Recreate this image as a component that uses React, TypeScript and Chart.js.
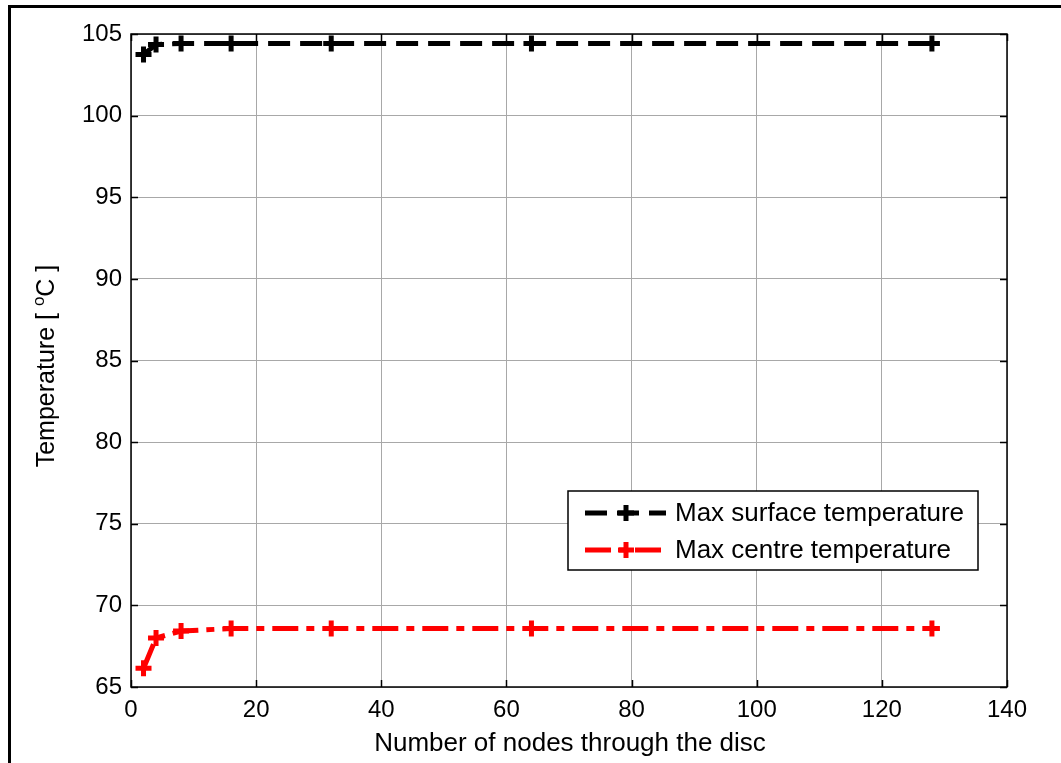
import React, { useEffect, useRef } from "react";
import { Chart, registerables } from "chart.js";

Chart.register(...registerables);

const nodes = [2, 4, 8, 16, 32, 64, 128];
const surfaceTemp = [103.75, 104.35, 104.42, 104.42, 104.42, 104.42, 104.42];
const centreTemp = [66.15, 68.0, 68.43, 68.58, 68.58, 68.58, 68.58];
const seriesLabels = ["Max surface temperature", "Max centre temperature"];
const xTitle = "Number of nodes through the disc";
const yTitleMain = "Temperature [ ";
const yTitleSup = "o";
const yTitleEnd = "C ]";

const FONT = "'Liberation Sans', Arial, sans-serif";

const decorPlugin = {
  id: "decor",
  beforeDraw(chart: any) {
    const ctx = chart.ctx;
    ctx.save();
    ctx.fillStyle = "#ffffff";
    ctx.fillRect(0, 0, chart.width, chart.height);
    ctx.restore();
  },
  afterDraw(chart: any) {
    const ctx = chart.ctx;
    const { left, right, top, bottom } = chart.chartArea;
    const xs = chart.scales.x;
    const ys = chart.scales.y;
    ctx.save();
    // figure frame
    ctx.fillStyle = "#000";
    ctx.fillRect(8, 5, 3, chart.height - 5);
    ctx.fillRect(8, 5, chart.width - 8, 3);
    // axes box
    ctx.strokeStyle = "#000";
    ctx.lineWidth = 1.5;
    ctx.strokeRect(left, top, right - left, bottom - top);
    // inward ticks
    const tl = 7;
    for (let v = 0; v <= 140; v += 20) {
      const px = Math.round(xs.getPixelForValue(v)) + 0.5;
      ctx.beginPath();
      ctx.moveTo(px, bottom);
      ctx.lineTo(px, bottom - tl);
      ctx.moveTo(px, top);
      ctx.lineTo(px, top + tl);
      ctx.stroke();
    }
    for (let v = 65; v <= 105; v += 5) {
      const py = Math.round(ys.getPixelForValue(v)) + 0.5;
      ctx.beginPath();
      ctx.moveTo(left, py);
      ctx.lineTo(left + tl, py);
      ctx.moveTo(right, py);
      ctx.lineTo(right - tl, py);
      ctx.stroke();
    }
    // axis titles
    ctx.fillStyle = "#000";
    ctx.font = `26px ${FONT}`;
    ctx.textAlign = "center";
    ctx.textBaseline = "middle";
    ctx.fillText(xTitle, 570, 744);
    // y title with superscript
    ctx.save();
    ctx.translate(47, 366);
    ctx.rotate(-Math.PI / 2);
    ctx.textAlign = "left";
    ctx.textBaseline = "middle";
    ctx.font = `25px ${FONT}`;
    const w1 = ctx.measureText(yTitleMain).width;
    const w3 = ctx.measureText(yTitleEnd).width;
    ctx.font = `17px ${FONT}`;
    const w2 = ctx.measureText(yTitleSup).width;
    const total = w1 + w2 + w3;
    const x0 = -total / 2;
    ctx.font = `25px ${FONT}`;
    ctx.fillText(yTitleMain, x0, 0);
    ctx.font = `17px ${FONT}`;
    ctx.fillText(yTitleSup, x0 + w1, -8);
    ctx.font = `25px ${FONT}`;
    ctx.fillText(yTitleEnd, x0 + w1 + w2, 0);
    ctx.restore();

    // legend
    const lx = 568, ly = 491, lw = 410, lh = 79;
    ctx.fillStyle = "#fff";
    ctx.fillRect(lx, ly, lw, lh);
    ctx.strokeStyle = "#000";
    ctx.lineWidth = 1.5;
    ctx.strokeRect(lx, ly, lw, lh);
    const ds = chart.data.datasets;
    const rows = [ly + 22, ly + 59];
    ds.forEach((d: any, i: number) => {
      const y = rows[i];
      ctx.save();
      ctx.strokeStyle = d.borderColor;
      ctx.lineWidth = 5;
      ctx.setLineDash(d.borderDash);
      ctx.beginPath();
      ctx.moveTo(585, y);
      ctx.lineTo(666, y);
      ctx.stroke();
      ctx.setLineDash([]);
      ctx.lineWidth = 5;
      ctx.beginPath();
      ctx.moveTo(626, y - 8);
      ctx.lineTo(626, y + 8);
      ctx.moveTo(618, y);
      ctx.lineTo(634, y);
      ctx.stroke();
      ctx.restore();
      ctx.fillStyle = "#000";
      ctx.font = `26px ${FONT}`;
      ctx.textAlign = "left";
      ctx.textBaseline = "middle";
      ctx.fillText(d.label, 675, y + 1);
    });
    ctx.restore();
  },
};

export default function App() {
  const ref = useRef<HTMLCanvasElement>(null);
  useEffect(() => {
    document.body.style.margin = "0";
    const chart = new Chart(ref.current!, {
      type: "line",
      data: {
        datasets: [
          {
            label: seriesLabels[0],
            data: nodes.map((x, i) => ({ x, y: surfaceTemp[i] })),
            borderColor: "#000000",
            backgroundColor: "#000000",
            borderWidth: 5,
            borderDash: [22, 10],
            pointStyle: "cross",
            pointRadius: 8,
            pointBorderWidth: 5,
            pointBorderColor: "#000000",
            tension: 0,
          },
          {
            label: seriesLabels[1],
            data: nodes.map((x, i) => ({ x, y: centreTemp[i] })),
            borderColor: "#ff0000",
            backgroundColor: "#ff0000",
            borderWidth: 5,
            borderDash: [26, 8, 8, 8],
            pointStyle: "cross",
            pointRadius: 8,
            pointBorderWidth: 5,
            pointBorderColor: "#ff0000",
            tension: 0,
          },
        ],
      },
      options: {
        animation: false,
        responsive: false,
        layout: { padding: { left: 0, top: 34, right: 54, bottom: 0 } },
        plugins: { legend: { display: false }, tooltip: { enabled: false } },
        scales: {
          x: {
            type: "linear",
            min: 0,
            max: 140,
            ticks: { stepSize: 20, color: "#000", font: { family: FONT, size: 24 }, padding: 9 },
            grid: { color: "#a8a8a8", lineWidth: 1, drawTicks: false },
            border: { display: false },
            afterFit: (s: any) => { s.height = 76; },
          },
          y: {
            type: "linear",
            min: 65,
            max: 105,
            ticks: { stepSize: 5, color: "#000", font: { family: FONT, size: 24 }, padding: 9 },
            grid: { color: "#a8a8a8", lineWidth: 1, drawTicks: false },
            border: { display: false },
            afterFit: (s: any) => { s.width = 131; },
          },
        },
      },
      plugins: [decorPlugin],
    });
    return () => chart.destroy();
  }, []);
  return (
    <div style={{ position: "fixed", left: 0, top: 0, width: 1061, height: 763 }}>
      <canvas ref={ref} width={1061} height={763} style={{ width: 1061, height: 763, display: "block" }} />
    </div>
  );
}
